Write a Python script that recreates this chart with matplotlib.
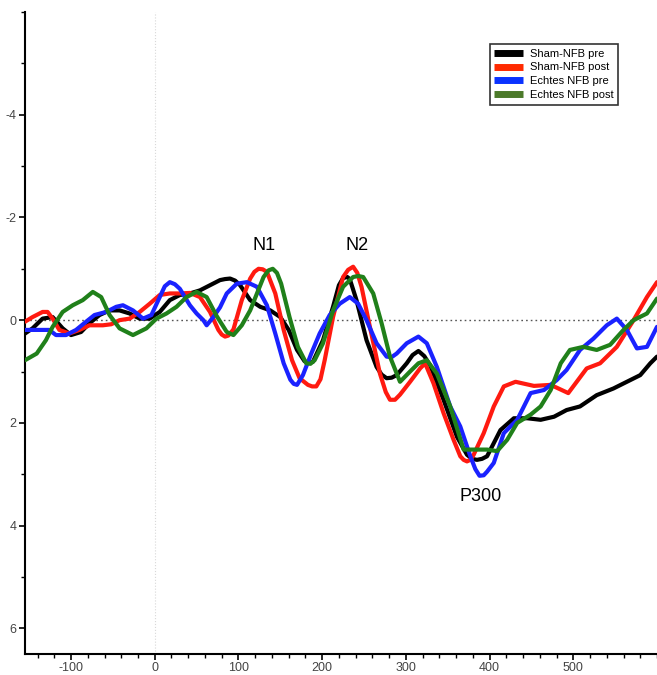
import matplotlib
matplotlib.use("Agg")
import matplotlib.pyplot as plt
from matplotlib.ticker import MultipleLocator, FixedLocator

plt.rcParams['font.family'] = ['Liberation Sans', 'DejaVu Sans']
plt.rcParams['axes.unicode_minus'] = False

# ERP-Verläufe (ms, µV), negative Werte nach oben
t_sham_pre = [-155, -146, -134, -122, -110, -100, -88, -78, -66, -54, -42, -30, -18, -6, 6, 18, 30, 42,
              54, 66, 78, 84, 90, 96, 102, 114, 126, 138, 150, 160, 170, 179, 184, 189, 201, 213, 220,
              225, 230, 233, 241, 253, 265, 271, 277, 283, 289, 301, 308, 315, 322, 329, 345, 361, 373,
              379, 385, 391, 397, 413, 429, 445, 461, 477, 492, 508, 528, 548, 564, 580, 592, 600]
v_sham_pre = [0.26, 0.16, -0.03, -0.06, 0.16, 0.29, 0.23, 0.06, -0.1, -0.19, -0.19, -0.13, -0.03, -0.03,
              -0.16, -0.39, -0.49, -0.52, -0.58, -0.68, -0.78, -0.8, -0.81, -0.77, -0.68, -0.39, -0.26,
              -0.19, -0.06, 0.19, 0.58, 0.8, 0.83, 0.81, 0.39, -0.26, -0.68, -0.82, -0.84, -0.8, -0.39,
              0.39, 0.91, 1.06, 1.13, 1.12, 1.07, 0.84, 0.68, 0.6, 0.7, 0.88, 1.55, 2.27, 2.62, 2.7,
              2.72, 2.7, 2.65, 2.14, 1.91, 1.91, 1.94, 1.88, 1.75, 1.68, 1.46, 1.33, 1.2, 1.07, 0.84, 0.71]

t_sham_post = [-155, -146, -134, -128, -122, -114, -102, -90, -78, -62, -52, -42, -30, -18, -6, 6, 18, 30,
               42, 54, 66, 76, 80, 84, 88, 94, 104, 114, 119, 124, 129, 134, 144, 154, 164, 173, 183,
               188, 193, 198, 203, 213, 225, 231, 237, 242, 247, 257, 269, 276, 281, 287, 293, 305, 317,
               323, 333, 345, 357, 365, 369, 373, 377, 381, 393, 405, 417, 431, 453, 473, 494, 516, 532,
               552, 572, 588, 600]
v_sham_post = [0.03, -0.06, -0.16, -0.16, -0.03, 0.19, 0.26, 0.19, 0.1, 0.1, 0.08, 0.0, -0.03, -0.16,
               -0.32, -0.49, -0.52, -0.52, -0.53, -0.45, -0.16, 0.19, 0.28, 0.32, 0.3, 0.18, -0.39, -0.81,
               -0.94, -1.0, -0.99, -0.94, -0.52, 0.19, 0.78, 1.13, 1.26, 1.29, 1.29, 1.15, 0.78, -0.06,
               -0.84, -0.98, -1.04, -0.92, -0.65, 0.13, 1.04, 1.4, 1.55, 1.55, 1.45, 1.2, 0.94, 0.84,
               1.23, 1.81, 2.33, 2.65, 2.72, 2.75, 2.72, 2.62, 2.2, 1.68, 1.29, 1.2, 1.28, 1.26, 1.42,
               0.94, 0.84, 0.52, 0.0, -0.45, -0.74]

t_echt_pre = [-155, -141, -126, -118, -106, -94, -82, -72, -58, -46, -38, -26, -14, -4, 6, 12, 18, 24, 30,
              42, 50, 58, 62, 70, 78, 86, 98, 110, 122, 134, 144, 154, 162, 166, 170, 177, 187, 197, 209,
              221, 233, 243, 253, 265, 277, 283, 289, 301, 315, 325, 337, 353, 365, 377, 383, 388, 393,
              397, 405, 417, 433, 449, 465, 480, 492, 508, 524, 540, 552, 564, 576, 588, 600]
v_echt_pre = [0.19, 0.19, 0.19, 0.29, 0.29, 0.19, 0.03, -0.1, -0.16, -0.26, -0.29, -0.19, -0.03, -0.1,
              -0.45, -0.66, -0.74, -0.7, -0.61, -0.29, -0.13, 0.0, 0.1, -0.06, -0.25, -0.52, -0.71,
              -0.74, -0.65, -0.29, 0.26, 0.84, 1.16, 1.24, 1.26, 1.07, 0.65, 0.26, -0.1, -0.32, -0.45,
              -0.32, 0.0, 0.45, 0.71, 0.72, 0.65, 0.45, 0.32, 0.45, 0.91, 1.68, 2.07, 2.65, 2.9, 3.03,
              3.02, 2.95, 2.78, 2.2, 1.94, 1.42, 1.36, 1.17, 0.97, 0.58, 0.36, 0.1, -0.03, 0.19, 0.55,
              0.52, 0.13]

t_echt_post = [-155, -141, -130, -122, -110, -98, -86, -74, -64, -54, -42, -26, -10, 2, 14, 26, 38, 50,
               62, 74, 86, 94, 104, 114, 130, 136, 141, 146, 151, 161, 171, 181, 186, 191, 201, 213, 225,
               237, 243, 249, 261, 271, 281, 293, 305, 315, 325, 337, 353, 369, 381, 397, 409, 421, 433,
               449, 461, 473, 485, 496, 512, 528, 544, 560, 572, 588, 600]
v_echt_post = [0.78, 0.65, 0.39, 0.13, -0.16, -0.29, -0.39, -0.55, -0.45, -0.1, 0.16, 0.29, 0.16, -0.03,
               -0.13, -0.26, -0.45, -0.55, -0.45, -0.08, 0.23, 0.29, 0.1, -0.19, -0.84, -0.97, -1.0,
               -0.92, -0.71, -0.06, 0.52, 0.84, 0.85, 0.78, 0.45, -0.19, -0.65, -0.84, -0.86, -0.84,
               -0.52, 0.06, 0.71, 1.2, 1.0, 0.84, 0.78, 1.04, 1.68, 2.52, 2.52, 2.52, 2.55, 2.33, 2.0,
               1.84, 1.68, 1.36, 0.84, 0.58, 0.52, 0.58, 0.48, 0.19, 0.0, -0.13, -0.42]

labels = ['Sham-NFB pre', 'Sham-NFB post', 'Echtes NFB pre', 'Echtes NFB post']
colors = ['#000000', '#ff1a10', '#1a22ff', '#20801a']
legend_colors = ['#000000', '#ff2a00', '#0a32ff', '#4c7a2a']

fig = plt.figure(figsize=(6.57, 6.75), dpi=100)
ax = fig.add_axes([25 / 657, 21 / 675, 632 / 657, 642 / 675])

ax.axvline(0, color='#d8d8d8', lw=0.8, ls=':', zorder=1)
ax.axhline(0, color='#555555', lw=1.0, ls=(0, (1.2, 2.2)), zorder=1)

series = [(t_sham_pre, v_sham_pre), (t_sham_post, v_sham_post),
          (t_echt_pre, v_echt_pre), (t_echt_post, v_echt_post)]
for (t, v), c, lab in zip(series, colors, labels):
    ax.plot(t, v, color=c, lw=3, label=lab, solid_capstyle='round',
            solid_joinstyle='round', zorder=3)

ax.set_xlim(-155, 600)
ax.set_ylim(6.5, -6)

ax.xaxis.set_major_locator(FixedLocator([-100, 0, 100, 200, 300, 400, 500]))
ax.xaxis.set_minor_locator(MultipleLocator(20))
ax.yaxis.set_major_locator(FixedLocator([-4, -2, 0, 2, 4, 6]))
ax.yaxis.set_minor_locator(MultipleLocator(1))
ax.tick_params(axis='both', which='major', length=4, width=1.2, labelsize=9,
               labelcolor='#444444', pad=2)
ax.tick_params(axis='both', which='minor', length=3, width=1.0)

for s in ['top', 'right']:
    ax.spines[s].set_visible(False)
for s in ['left', 'bottom']:
    ax.spines[s].set_linewidth(1.5)

ax.text(131, -1.46, 'N1', fontsize=13, ha='center', va='center')
ax.text(242, -1.46, 'N2', fontsize=13, ha='center', va='center')
ax.text(389, 3.44, 'P300', fontsize=13, ha='center', va='center')

leg = ax.legend(loc='upper right', bbox_to_anchor=(0.938, 0.950), borderaxespad=0,
                fontsize=8, frameon=True, fancybox=False, edgecolor='black',
                handlelength=2.6, handletextpad=0.6, labelspacing=0.35, borderpad=0.4)
leg.get_frame().set_linewidth(1.2)
for h, c in zip(leg.get_lines(), legend_colors):
    h.set_linewidth(5)
    h.set_color(c)
    h.set_solid_capstyle('butt')

fig.savefig('out.png', dpi=100)
